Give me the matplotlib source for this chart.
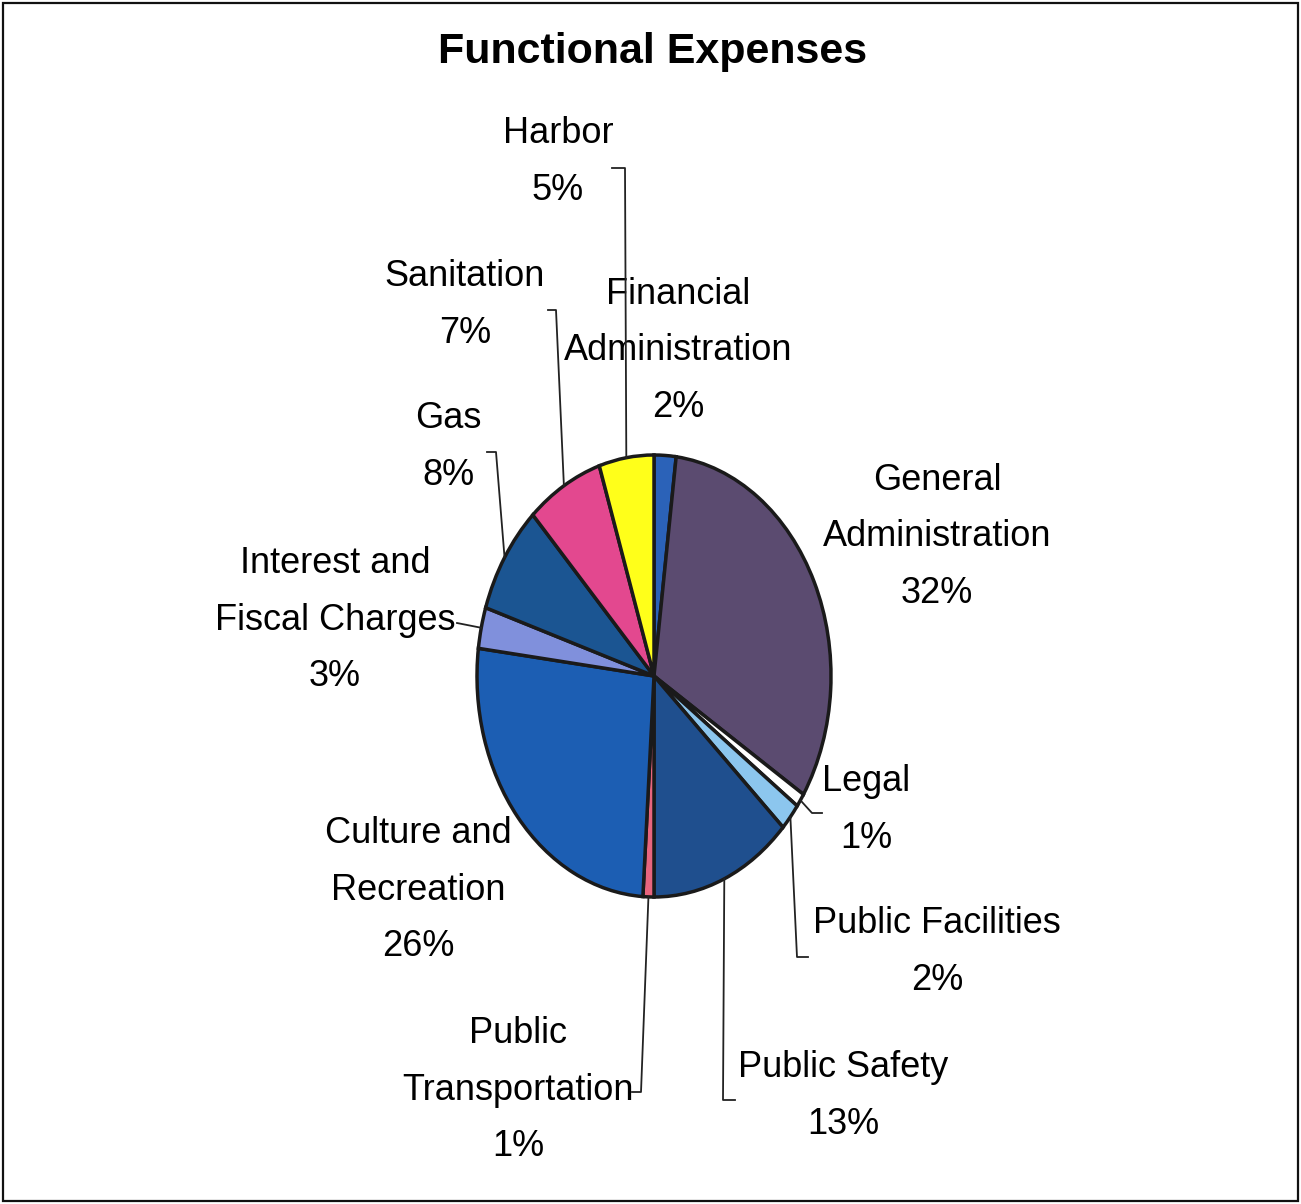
import numpy as np
import matplotlib
matplotlib.use("Agg")
import matplotlib.pyplot as plt
from matplotlib.patches import Rectangle

plt.rcParams['font.family'] = ['Liberation Sans', 'DejaVu Sans']

# expense categories, clockwise from 12 o'clock
categories = ['Financial\nAdministration', 'General\nAdministration', 'Legal', 'Public Facilities',
              'Public Safety', 'Public\nTransportation', 'Culture and\nRecreation',
              'Interest and\nFiscal Charges', 'Gas', 'Sanitation', 'Harbor']
shares = [2, 32, 1, 2, 13, 1, 26, 3, 8, 7, 5]
colors = ['#2b62b8', '#5b4b70', '#ffffff', '#8cc6ee', '#1f4f8e', '#e8657e', '#1c5eb3',
          '#8090dc', '#1b5592', '#e3488f', '#ffff1a']

# label centres (pixels from top-left) and leader elbows
label_pos = [(678, 351), (937, 537), (866, 810), (937, 952), (843, 1096), (518, 1090),
             (418, 890), (335, 620), (448, 447), (465, 305), (558, 162)]
leaders = {2: [(822, 813), (812, 813)], 3: [(808, 957), (797, 957)],
           4: [(735, 1100), (723, 1100)], 5: [(632, 1092), (641, 1092)],
           7: [(457, 623)], 8: [(487, 452), (496, 452)],
           9: [(548, 310), (556, 310)], 10: [(612, 168), (625, 168)]}

W, H = 1301, 1204
cx, cy, rx, ry = 654, 676, 177, 221

fig = plt.figure(figsize=(W / 100, H / 100), dpi=100)
fig.patch.set_facecolor('white')

ax = fig.add_axes([0, 0, 1, 1])
wedges, _ = ax.pie(shares, colors=colors, startangle=90, counterclock=False, radius=1,
                   wedgeprops=dict(edgecolor='#1a1a1a', linewidth=2.5))
ax.set_aspect('auto')
ax.set_xlim(-cx / rx, (W - cx) / rx)
ax.set_ylim((cy - H) / ry, cy / ry)
ax.axis('off')

# overlay in pixel units for labels, leaders and the frame
lay = fig.add_axes([0, 0, 1, 1], facecolor='none')
lay.set_xlim(0, W)
lay.set_ylim(H, 0)
lay.axis('off')

to_px = ax.transData + lay.transData.inverted()

for i, (w, name, v) in enumerate(zip(wedges, categories, shares)):
    x, y = label_pos[i]
    lay.text(x, y, f"{name}\n{v}%", ha='center', va='center', multialignment='center',
             fontsize=26, linespacing=1.8, color='black')
    if i in leaders:
        mid = np.deg2rad((w.theta1 + w.theta2) / 2)
        ax_pt = to_px.transform((np.cos(mid), np.sin(mid)))
        pts = leaders[i] + [tuple(ax_pt)]
        xs, ys = zip(*pts)
        lay.plot(xs, ys, color='#222222', lw=1.3, zorder=5)

lay.text(653, 52, 'Functional Expenses', ha='center', va='center', fontsize=31,
         fontweight='bold', color='black')

lay.add_patch(Rectangle((3, 3), W - 6, H - 6, fill=False, edgecolor='#111111', lw=1.6))

fig.savefig('out.png', dpi=100)
